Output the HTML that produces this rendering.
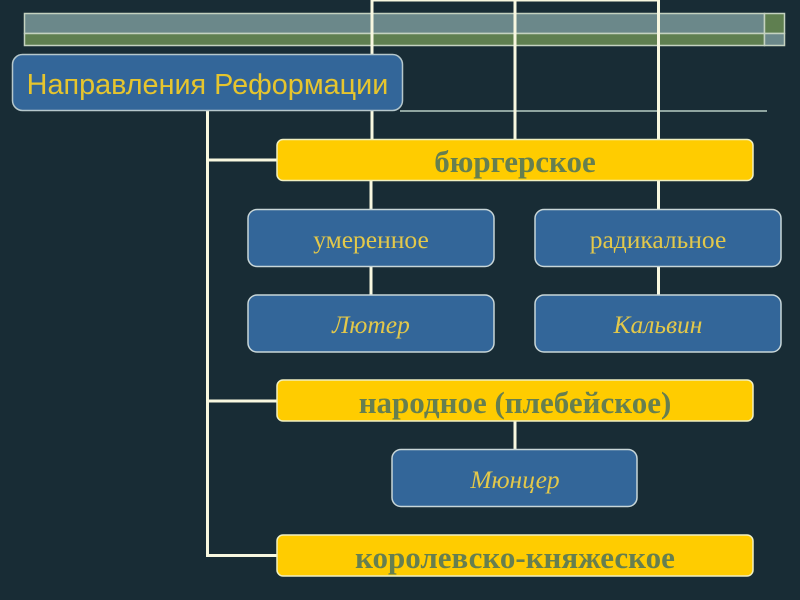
<!DOCTYPE html>
<html>
<head>
<meta charset="utf-8">
<style>
html,body{margin:0;padding:0;width:800px;height:600px;overflow:hidden;background:#182c35}
svg{display:block}
text{text-anchor:middle}
.s{font-family:"Liberation Serif",serif}
</style>
</head>
<body>
<svg width="800" height="600" viewBox="0 0 800 600" xmlns="http://www.w3.org/2000/svg">
<rect width="800" height="600" fill="#182c35"/>
<!-- top bars -->
<rect x="24.500" y="13.500" width="740" height="20" fill="#6b888a" stroke="#c4d2c0" stroke-width="1.500"/>
<rect x="24.500" y="33.500" width="740" height="12" fill="#5f7f50" stroke="#c4d2c0" stroke-width="1.500"/>
<rect x="764.500" y="13.500" width="20" height="20" fill="#5f7f50" stroke="#c4d2c0" stroke-width="1.500"/>
<rect x="764.500" y="33.500" width="20" height="12" fill="#6b888a" stroke="#c4d2c0" stroke-width="1.500"/>
<rect x="400" y="110" width="367" height="2" fill="#8fa5a0"/>
<!-- connectors -->
<g stroke="#f8f8e0" stroke-width="3" fill="none">
<path d="M372 0V140M515 0V140M658.500 0V140"/>
<path d="M371 0.500H659" stroke="#f8f8e0" stroke-width="2"/>
<path d="M207.500 110V555.500H278M207 160H278M207 401H278"/>
<path d="M371 180V210M371 266V295M658.500 180V210M658.500 266V295M515 420V450"/>
</g>
<!-- title -->
<rect x="12.500" y="54.500" width="390" height="56" rx="10" fill="#336699" stroke="#b6c8cc" stroke-width="1.500"/>
<text x="207.500" y="94" font-family="'Liberation Sans',sans-serif" font-size="28.800" fill="#e6c52e">Направления Реформации</text>
<!-- yellow boxes -->
<rect x="277" y="139.500" width="476" height="41" rx="6" fill="#ffcc00" stroke="#f0efc0" stroke-width="1.500"/>
<text class="s" x="515" y="172" font-size="31" font-weight="bold" fill="#667f50">бюргерское</text>
<rect x="277" y="380" width="476" height="41" rx="6" fill="#ffcc00" stroke="#f0efc0" stroke-width="1.500"/>
<text class="s" x="515" y="413" font-size="31" font-weight="bold" fill="#667f50">народное (плебейское)</text>
<rect x="277" y="535" width="476" height="41" rx="6" fill="#ffcc00" stroke="#f0efc0" stroke-width="1.500"/>
<text class="s" x="515" y="568" font-size="31" font-weight="bold" fill="#667f50">королевско-княжеское</text>
<!-- blue boxes -->
<g fill="#336699" stroke="#c8d6d8" stroke-width="1.500">
<rect x="248" y="209.500" width="246" height="57" rx="9"/>
<rect x="535" y="209.500" width="246" height="57" rx="9"/>
<rect x="248" y="295" width="246" height="57" rx="9"/>
<rect x="535" y="295" width="246" height="57" rx="9"/>
<rect x="392" y="449.500" width="245" height="57" rx="9"/>
</g>
<g class="s" font-size="25.500" fill="#e3c84a">
<text class="s" x="371" y="248">умеренное</text>
<text class="s" x="658" y="248">радикальное</text>
<text class="s" x="371" y="333" font-style="italic">Лютер</text>
<text class="s" x="658" y="333" font-style="italic">Кальвин</text>
<text class="s" x="515" y="488" font-style="italic">Мюнцер</text>
</g>
</svg>
</body>
</html>
